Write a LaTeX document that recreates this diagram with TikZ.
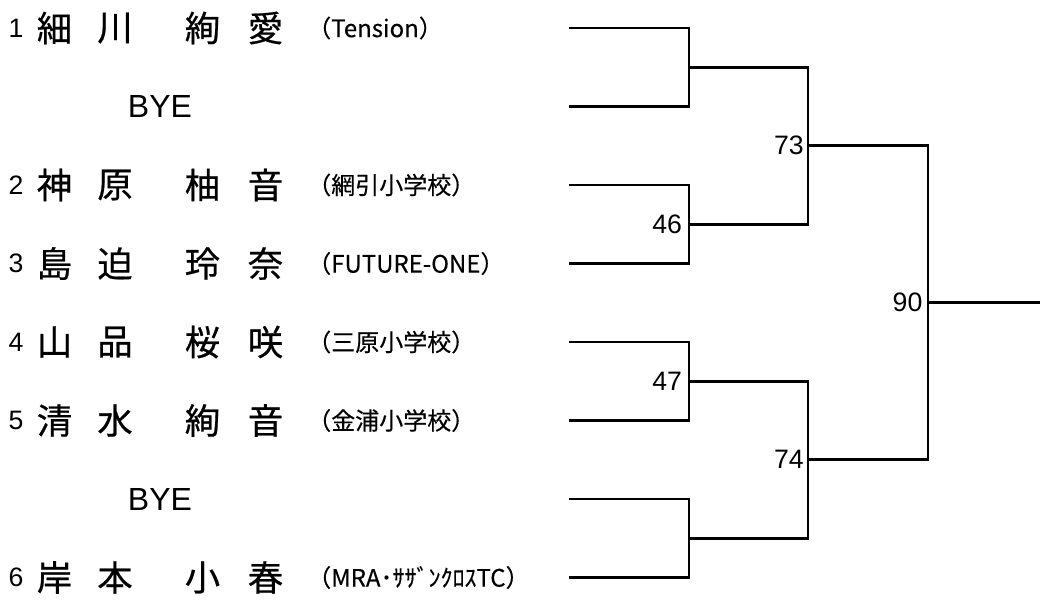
\documentclass[tikz,border=0pt]{standalone}
\usepackage{fontspec}
\setmainfont{Liberation Sans}
\newfontfamily\jp[FakeBold=0.6]{Noto Sans CJK JP}
\newfontfamily\jpt[FakeBold=0.3]{Noto Sans CJK JP}
\begin{document}
\begin{tikzpicture}[x=0.75pt,y=-0.75pt,
  wire/.style={line width=2.2pt,black},
  seed/.style={font=\fontsize{20}{20}\selectfont,inner sep=0pt,anchor=center},
  namech/.style={font=\jp\fontsize{26.5}{26.5}\selectfont,inner sep=0pt,anchor=center},
  team/.style={font=\jpt\fontsize{18}{18}\selectfont,inner sep=0pt,anchor=west},
  byetxt/.style={font=\fontsize{24}{24}\selectfont,inner sep=0pt,anchor=center},
  lbl/.style={font=\fontsize{20}{20}\selectfont,inner sep=0pt,anchor=east}]
\useasboundingbox (0,0) rectangle (1040,601);
\fill[white] (0,0) rectangle (1040,601);
% leaf start points
\coordinate (a1) at (569,28);
\coordinate (a2) at (569,106.5);
\coordinate (a3) at (569,185);
\coordinate (a4) at (569,263.5);
\coordinate (a5) at (569,342);
\coordinate (a6) at (569,420.5);
\coordinate (a7) at (569,499);
\coordinate (a8) at (569,577.5);
% joins
\coordinate (j1) at (689,67.25);
\coordinate (j2) at (689,224.25);
\coordinate (j3) at (689,381.25);
\coordinate (j4) at (689,538.25);
\coordinate (k1) at (808,145.75);
\coordinate (k2) at (808,459.75);
\coordinate (f) at (928,302.75);
\coordinate (fend) at (1040,302.75);
% bracket
\draw[wire] (a1) -| (j1) |- (a2);
\draw[wire] (a3) -| (j2) |- (a4);
\draw[wire] (a5) -| (j3) |- (a6);
\draw[wire] (a7) -| (j4) |- (a8);
\draw[wire] (j1) -| (k1) |- (j2);
\draw[wire] (j3) -| (k2) |- (j4);
\draw[wire] (k1) -| (f) |- (k2);
\draw[wire] (f) -- (fend);
% match labels
\node[lbl] (m46) at ([xshift=-5]j2) {46};
\node[lbl] (m47) at ([xshift=-5]j3) {47};
\node[lbl] (m73) at ([xshift=-3]k1) {73};
\node[lbl] (m74) at ([xshift=-3]k2) {74};
\node[lbl] (m90) at ([xshift=-4]f) {90};
% row 1
\node[seed] (s1) at (16,28) {1};
\node[namech] (n1a) at (54.5,28) {細};
\node[namech] (n1b) at (115,28) {川};
\node[namech] (n1c) at (202.5,28) {絢};
\node[namech] (n1d) at (265.5,28) {愛};
\node[team] (t1) at (307,28) {（Tension）};
% bye 1
\node[byetxt] (b1) at (160,106.5) {BYE};
% row 2
\node[seed] (s2) at (16,185) {2};
\node[namech] (n2a) at (54.5,185) {神};
\node[namech] (n2b) at (115,185) {原};
\node[namech] (n2c) at (202.5,185) {柚};
\node[namech] (n2d) at (265.5,185) {音};
\node[team] (t2) at (307,185) {（網引小学校）};
% row 3
\node[seed] (s3) at (16,263.5) {3};
\node[namech] (n3a) at (54.5,263.5) {島};
\node[namech] (n3b) at (115,263.5) {迫};
\node[namech] (n3c) at (202.5,263.5) {玲};
\node[namech] (n3d) at (265.5,263.5) {奈};
\node[team] (t3) at (307,263.5) {（FUTURE-ONE）};
% row 4
\node[seed] (s4) at (16,342) {4};
\node[namech] (n4a) at (54.5,342) {山};
\node[namech] (n4b) at (115,342) {品};
\node[namech] (n4c) at (202.5,342) {桜};
\node[namech] (n4d) at (265.5,342) {咲};
\node[team] (t4) at (307,342) {（三原小学校）};
% row 5
\node[seed] (s5) at (16,420.5) {5};
\node[namech] (n5a) at (54.5,420.5) {清};
\node[namech] (n5b) at (115,420.5) {水};
\node[namech] (n5c) at (202.5,420.5) {絢};
\node[namech] (n5d) at (265.5,420.5) {音};
\node[team] (t5) at (307,420.5) {（金浦小学校）};
% bye 2
\node[byetxt] (b2) at (160,499) {BYE};
% row 6
\node[seed] (s6) at (16,577.5) {6};
\node[namech] (n6a) at (54.5,577.5) {岸};
\node[namech] (n6b) at (115,577.5) {本};
\node[namech] (n6c) at (202.5,577.5) {小};
\node[namech] (n6d) at (265.5,577.5) {春};
\node[team] (t6) at (307,577.5) {（MRA･ｻｻﾞﾝｸﾛｽTC）};
\end{tikzpicture}
\end{document}
